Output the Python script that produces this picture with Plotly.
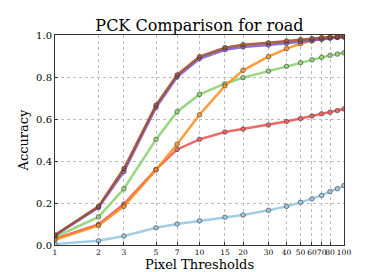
import plotly.graph_objects as go

thresholds = [1, 2, 3, 5, 7, 10, 15, 20, 30, 40, 50, 60, 70, 80, 90, 100]
tick_vals = [1, 2, 3, 5, 7, 10, 15, 20, 30, 40, 50, 60, 70, 80, 100]
tick_text = ["1", "2", "3", "5", "7", "10", "15", "20", "30", "40", "50", "60", "70", "80", "100"]
y_ticks = [0.0, 0.2, 0.4, 0.6, 0.8, 1.0]

blue = [0.005, 0.02, 0.043, 0.082, 0.10, 0.115, 0.132, 0.143, 0.165, 0.184, 0.203, 0.22, 0.236, 0.254, 0.268, 0.283]
red = [0.03, 0.098, 0.195, 0.36, 0.455, 0.503, 0.538, 0.552, 0.572, 0.588, 0.602, 0.614, 0.625, 0.632, 0.64, 0.648]
green = [0.038, 0.134, 0.268, 0.503, 0.635, 0.717, 0.768, 0.797, 0.828, 0.851, 0.868, 0.882, 0.894, 0.903, 0.909, 0.915]
orange = [0.025, 0.093, 0.184, 0.358, 0.48, 0.62, 0.758, 0.832, 0.897, 0.935, 0.958, 0.972, 0.98, 0.986, 0.989, 0.992]
purple = [0.045, 0.178, 0.35, 0.655, 0.80, 0.887, 0.93, 0.943, 0.952, 0.96, 0.968, 0.975, 0.98, 0.985, 0.988, 0.99]
brown = [0.048, 0.184, 0.364, 0.666, 0.81, 0.897, 0.94, 0.954, 0.963, 0.972, 0.978, 0.983, 0.988, 0.991, 0.992, 0.994]

series = [
    ("blue", blue, "#92c5e0"),
    ("red", red, "#ee5050"),
    ("green", green, "#86d16a"),
    ("orange", orange, "#ff8c1a"),
    ("purple", purple, "#7b55c9"),
    ("brown", brown, "#9c4a22"),
]

fig = go.Figure()
for name, vals, col in series:
    fig.add_trace(go.Scatter(
        x=thresholds, y=vals, mode="lines+markers", name=name,
        line=dict(color=col, width=2.5),
        marker=dict(size=4.5, color=col, line=dict(color="rgba(40,40,40,0.75)", width=0.9)),
        opacity=0.85,
    ))

font = "DejaVu Serif, serif"
fig.update_layout(
    width=374, height=272,
    margin=dict(l=47, r=38, t=27, b=29),
    paper_bgcolor="white", plot_bgcolor="white",
    showlegend=False,
    font=dict(family=font, size=10, color="black"),
    title=dict(text="PCK Comparison for road", x=0.512, xanchor="center", y=0.935, yanchor="middle",
               font=dict(family=font, size=16, color="black")),
)
fig.update_xaxes(
    type="log", range=[0, 2], tickvals=tick_vals, ticktext=tick_text, tickangle=0,
    showgrid=True, gridcolor="#bdbdbd", griddash="dot", gridwidth=1,
    showline=True, linecolor="#333", linewidth=1, mirror=True,
    ticks="inside", ticklen=3, tickcolor="#333",
    title=dict(text="Pixel Thresholds", font=dict(family=font, size=13), standoff=2),
    tickfont=dict(family=font, size=7.5),
    zeroline=False,
)
fig.update_yaxes(
    range=[0, 1], tickvals=y_ticks, ticktext=[f"{v:.1f}" for v in y_ticks],
    showgrid=True, gridcolor="#bdbdbd", griddash="dot", gridwidth=1,
    showline=True, linecolor="#333", linewidth=1, mirror=True,
    ticks="inside", ticklen=3, tickcolor="#333",
    title=dict(text="Accuracy", font=dict(family=font, size=13), standoff=4),
    tickfont=dict(family=font, size=10),
    zeroline=False,
)
fig.write_html("out.html")
